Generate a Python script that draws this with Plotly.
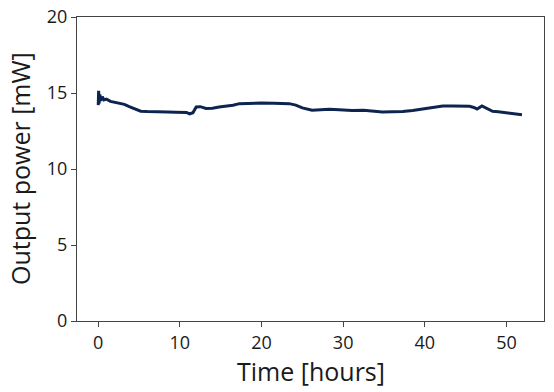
import plotly.graph_objects as go

time_hours = [0.0, 0.05, 0.1, 0.2, 0.3, 0.5, 0.7, 1.0, 1.5, 2.0, 2.6, 3.2, 3.8, 4.5, 5.2,
              6.0, 7.0, 7.5, 8.5, 9.5, 10.0, 10.8, 11.2, 11.6, 12.0, 12.5, 13.2, 14.0,
              14.8, 15.5, 16.5, 17.3, 18.5, 20.0, 21.5, 22.2, 23.4, 24.2, 25.0, 26.2,
              27.2, 28.3, 29.5, 31.1, 32.5, 33.5, 34.8, 36.0, 37.3, 38.5, 40.2, 41.2,
              42.2, 43.5, 44.5, 45.5, 46.0, 46.4, 47.0, 47.5, 48.3, 49.0, 50.0, 51.0, 51.9]
power_mw = [14.2, 15.15, 14.3, 14.9, 14.5, 14.75, 14.55, 14.6, 14.45, 14.4, 14.32, 14.25, 14.1,
            13.95, 13.8, 13.78, 13.78, 13.77, 13.75, 13.73, 13.74, 13.72, 13.62, 13.7,
            14.08, 14.1, 13.98, 14.0, 14.08, 14.12, 14.2, 14.3, 14.33, 14.34, 14.33,
            14.32, 14.3, 14.2, 14.02, 13.86, 13.9, 13.93, 13.9, 13.85, 13.86, 13.8,
            13.75, 13.76, 13.78, 13.85, 14.0, 14.06, 14.14, 14.15, 14.15, 14.13, 14.05,
            13.95, 14.15, 14.02, 13.8, 13.76, 13.68, 13.65, 13.57]

x_ticks = [0, 10, 20, 30, 40, 50]
y_ticks = [0, 5, 10, 15, 20]

FONT = "Open Sans"
TXT = "#1a1a1a"

fig = go.Figure()
fig.add_trace(go.Scatter(x=time_hours, y=power_mw, mode="lines",
                         line=dict(color="#0d2350", width=3), showlegend=False))

axis_common = dict(showgrid=False, zeroline=False, showline=True, linecolor="#444444",
                   linewidth=1, mirror=True, ticks="outside", ticklen=5, tickwidth=1,
                   tickcolor="#444444", automargin=False, ticklabeloverflow="allow",
                   tickfont=dict(size=18, color=TXT, family=FONT))

fig.update_layout(
    width=554, height=392,
    margin=dict(l=77, r=10, t=17, b=71),
    paper_bgcolor="white", plot_bgcolor="white",
    xaxis=dict(range=[-2.6, 54.6], tickvals=x_ticks, **axis_common),
    yaxis=dict(range=[0, 20], tickvals=y_ticks, **axis_common),
    annotations=[
        dict(text="Time [hours]", xref="paper", yref="paper", x=0.5, y=0,
             xanchor="center", yanchor="middle", yshift=-50, showarrow=False,
             font=dict(size=25, color=TXT, family=FONT)),
        dict(text="Output power [mW]", xref="paper", yref="paper", x=0, y=0.5,
             xanchor="center", yanchor="middle", xshift=-57, textangle=-90,
             showarrow=False, font=dict(size=25, color=TXT, family=FONT)),
    ],
)

fig.write_html("out.html", config={"displayModeBar": False},
               post_script="document.body.style.margin='0';")
